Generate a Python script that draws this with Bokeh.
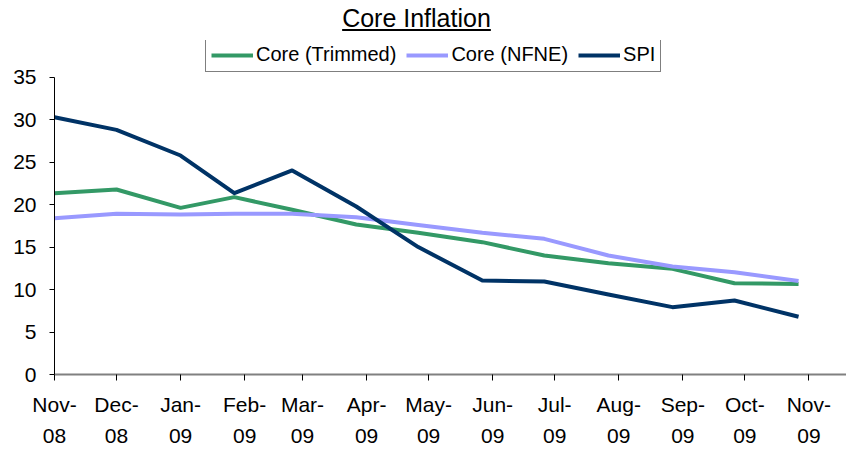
import pandas as pd
from bokeh.plotting import figure
from bokeh.models import Div, Legend, LegendItem, FixedTicker, Range1d
from bokeh.layouts import column
from bokeh.embed import file_html
from bokeh.resources import INLINE

# ---- data ----
dates = ["2008-11-01", "2008-12-01", "2009-01-01", "2009-01-27", "2009-02-24",
         "2009-03-27", "2009-04-26", "2009-05-27", "2009-06-26", "2009-07-27",
         "2009-08-27", "2009-09-26", "2009-10-27"]
core_trimmed = [21.35, 21.78, 19.62, 20.88, 19.39, 17.66, 16.7, 15.58, 14.01, 13.1, 12.44, 10.75, 10.65]
core_nfne = [18.4, 18.92, 18.84, 18.92, 18.92, 18.52, 17.6, 16.68, 15.97, 14.01, 12.71, 12.04, 11.0]
spi = [30.29, 28.8, 25.78, 21.35, 24.02, 19.78, 15.0, 11.07, 10.95, 9.42, 7.93, 8.71, 6.8]
tick_months = ["Nov-08", "Dec-08", "Jan-09", "Feb-09", "Mar-09", "Apr-09", "May-09",
               "Jun-09", "Jul-09", "Aug-09", "Sep-09", "Oct-09", "Nov-09"]
y_ticks = [0, 5, 10, 15, 20, 25, 30, 35]
title_text = "Core Inflation"

FONT = "Liberation Sans"
origin = pd.Timestamp("2008-11-01")
x_days = [(pd.Timestamp(d) - origin).days for d in dates]
tick_days = [(pd.to_datetime(m, format="%b-%y") - origin).days for m in tick_months]

title = Div(text=f"<u>{title_text}</u>", width=833, height=24, margin=(8, 0, 0, 0),
            styles={"font-family": FONT, "font-size": "25px", "line-height": "20px",
                    "text-align": "center", "color": "#000000"})

p = figure(width=846, height=417, output_backend="svg", toolbar_location=None,
           title=None, x_range=Range1d(0, 383.2), y_range=Range1d(0, 39.32),
           min_border_top=8, min_border_left=54, min_border_right=0, min_border_bottom=60)
p.outline_line_color = None
p.xgrid.visible = False
p.ygrid.visible = False
p.background_fill_color = "white"
p.border_fill_color = "white"

r1 = p.line(x_days, core_trimmed, line_color="#339966", line_width=4, line_join="round")
r2 = p.line(x_days, core_nfne, line_color="#9999FF", line_width=4, line_join="round")
r3 = p.line(x_days, spi, line_color="#003366", line_width=4, line_join="round")

# axes
xa = p.xaxis[0]
xa.ticker = FixedTicker(ticks=tick_days)
xa.major_label_overrides = {d: m.replace("-", "-\n") for d, m in zip(tick_days, tick_months)}
xa.minor_tick_line_color = None
xa.major_tick_out = 6
xa.major_tick_in = 0
xa.axis_line_color = "#808080"
xa.axis_line_width = 2
xa.major_tick_line_color = "#000000"
xa.major_label_text_font = FONT
xa.major_label_text_font_size = "21px"
xa.major_label_text_color = "#000000"
xa.major_label_text_line_height = 1.35
xa.major_label_standoff = 12

ya = p.yaxis[0]
ya.ticker = FixedTicker(ticks=y_ticks)
ya.bounds = (0, 35)
ya.minor_tick_line_color = None
ya.major_tick_out = 5
ya.major_tick_in = 0
ya.axis_line_color = "#000000"
ya.major_tick_line_color = "#000000"
ya.major_label_text_font = FONT
ya.major_label_text_font_size = "21px"
ya.major_label_text_color = "#000000"
ya.major_label_standoff = 13

legend = Legend(items=[LegendItem(label="Core (Trimmed)", renderers=[r1]),
                       LegendItem(label="Core (NFNE)", renderers=[r2]),
                       LegendItem(label="SPI", renderers=[r3])],
                orientation="horizontal", location=(151, 302), margin=0,
                padding=5, spacing=10, glyph_width=42, glyph_height=20,
                label_standoff=3, label_height=20,
                label_text_font=FONT, label_text_font_size="20px",
                label_text_color="#000000",
                border_line_color="#000000", border_line_width=1,
                background_fill_color="white", background_fill_alpha=1.0)
p.add_layout(legend, "center")

layout = column(title, p, spacing=0)
open("out.html", "w").write(file_html(layout, INLINE))
